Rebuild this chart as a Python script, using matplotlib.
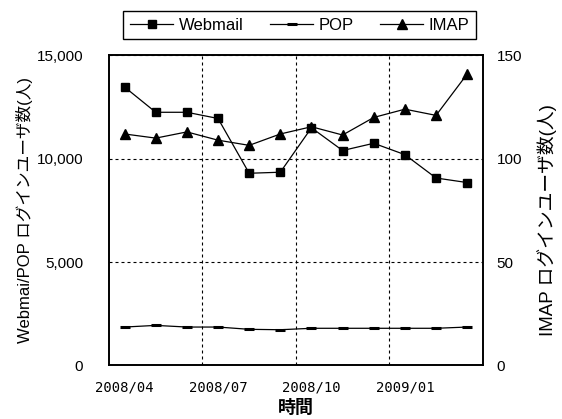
import matplotlib
matplotlib.use("Agg")
import numpy as np
import matplotlib.pyplot as plt
from matplotlib.ticker import FixedLocator, FuncFormatter

# values
months = ["2008/04", "2008/05", "2008/06", "2008/07", "2008/08", "2008/09",
          "2008/10", "2008/11", "2008/12", "2009/01", "2009/02", "2009/03"]
webmail = [13470, 12250, 12250, 11950, 9300, 9350, 11500, 10400, 10750, 10200, 9070, 8850]
pop = [1860, 1940, 1860, 1860, 1750, 1730, 1800, 1800, 1800, 1800, 1800, 1860]
imap = [112, 110, 113, 109, 106.5, 112, 115.5, 111.5, 120, 124, 121, 141]

JP = ["Liberation Sans", "Noto Sans CJK JP"]

fig = plt.figure(figsize=(5.62, 4.19), dpi=100)
ax = fig.add_axes([0.194, 0.1277, 0.665, 0.74])
ax2 = ax.twinx()

x = np.arange(len(months))
l1, = ax.plot(x, webmail, color="black", lw=0.9, marker="s", ms=6.2, label="Webmail")
l2, = ax.plot(x, pop, color="black", lw=0.9, marker="_", ms=7, mew=2.2, label="POP")
l3, = ax2.plot(x, imap, color="black", lw=0.9, marker="^", ms=7, label="IMAP")

ax.set_xlim(-0.5, len(months) - 0.5)
ax.set_ylim(0, 15000)
ax2.set_ylim(0, 150)
ax.set_yticks([0, 5000, 10000, 15000])
ax2.set_yticks([0, 50, 100, 150])
ax.yaxis.set_major_formatter(FuncFormatter(lambda v, p: f"{int(v):,}"))

ax.set_xticks(x[::3])
ax.set_xticklabels(months[::3], family="DejaVu Sans Mono", fontsize=10)
ax.xaxis.set_minor_locator(FixedLocator([2.5, 5.5, 8.5]))

ax.grid(True, which="minor", axis="x", color="black", lw=0.8, linestyle=(0, (2.7, 2.7)))
ax.grid(True, which="major", axis="y", color="black", lw=0.8, linestyle=(0, (2.7, 2.7)))
ax.grid(False, which="major", axis="x")

ax.tick_params(axis="both", which="both", length=0)
ax.tick_params(axis="y", pad=18.5, labelsize=11)
ax.tick_params(axis="x", pad=11)
ax2.tick_params(axis="y", length=0, pad=10, labelsize=11)
for t in ax.get_yticklabels() + ax2.get_yticklabels():
    t.set_family("Liberation Sans")

for a in (ax, ax2):
    for s in a.spines.values():
        s.set_linewidth(1.2)
        s.set_color("black")

ax.set_ylabel("Webmai/POP ログインユーザ数(人)", family=JP, fontsize=12, va="center")
ax.yaxis.set_label_coords(-0.225, 0.5)
ax2.set_ylabel("IMAP ログインユーザ数(人)", family=JP, fontsize=13.5, va="center")
ax2.yaxis.set_label_coords(1.171, 0.47)
ax.set_xlabel("時間", family=JP, fontsize=13, fontweight="bold", va="center")
ax.xaxis.set_label_coords(0.5, -0.14)

leg = ax.legend(handles=[l1, l2, l3], ncol=3, loc="center", bbox_to_anchor=(0.51, 1.098),
                frameon=True, fancybox=False, edgecolor="black", handlelength=2.6,
                columnspacing=1.6, handletextpad=0.3, borderpad=0.4,
                prop={"family": "Liberation Sans", "size": 12})
leg.get_frame().set_linewidth(1.0)
leg.get_frame().set_alpha(1)

fig.savefig("out.png", dpi=100)
